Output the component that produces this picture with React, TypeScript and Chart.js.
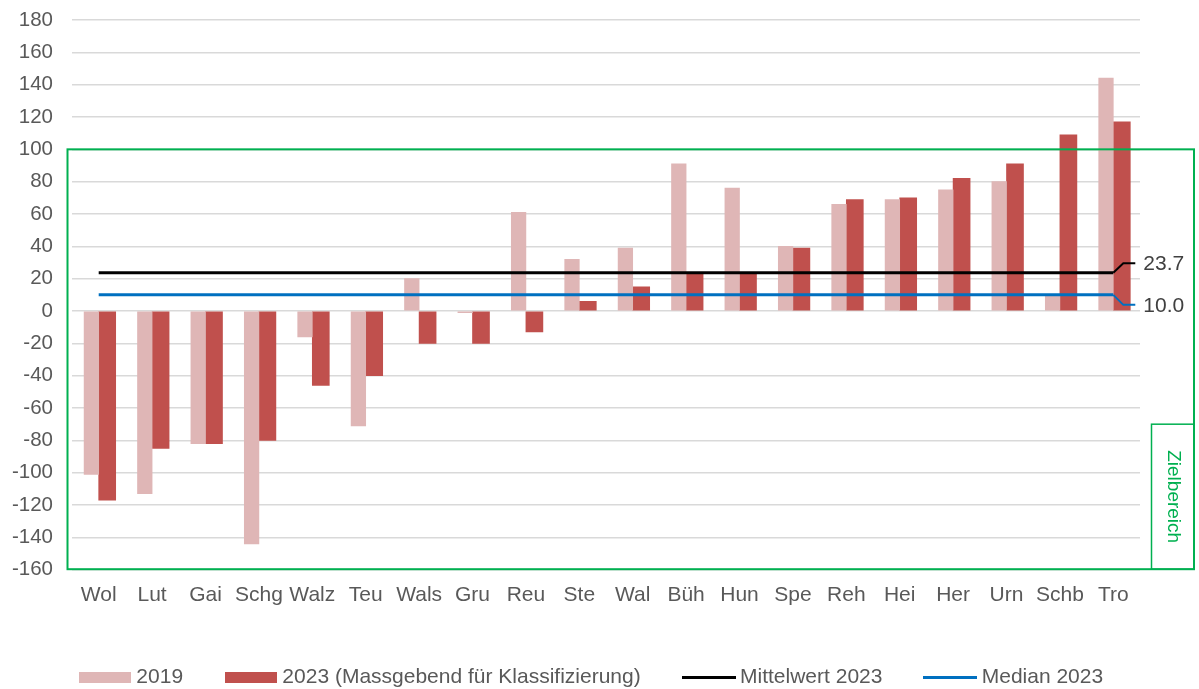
import React, { useEffect, useRef } from 'react';
import { Chart, registerables } from 'chart.js';

Chart.register(...registerables);

const CATEGORIES = ['Wol', 'Lut', 'Gai', 'Schg', 'Walz', 'Teu', 'Wals', 'Gru', 'Reu', 'Ste', 'Wal', 'Büh', 'Hun', 'Spe', 'Reh', 'Hei', 'Her', 'Urn', 'Schb', 'Tro'];
const VALUES_2019 = [-101, -113, -82, -144, -16, -71, 20, -1, 61, 32, 39, 91, 76, 40, 66, 69, 75, 80, 10, 144];
const VALUES_2023 = [-117, -85, -82, -80, -46, -40, -20, -20, -13, 6, 15, 23, 23, 39, 69, 70, 82, 91, 109, 117];
const MEAN_2023 = 23.7;
const MEDIAN_2023 = 10.0;
const Y_MIN = -160;
const Y_MAX = 180;
const Y_STEP = 20;
const TARGET_TOP = 100;
const TARGET_BOTTOM = -160;
const TARGET_LABEL_TOP = -70;
const SERIES_LABELS = ['2019', '2023 (Massgebend für Klassifizierung)', 'Mittelwert 2023', 'Median 2023'];
const TARGET_LABEL = 'Zielbereich';

const FONT = '"Liberation Sans", Arial, Helvetica, sans-serif';
const TEXT_COLOR = '#595959';
const GREEN = '#00B050';
const PINK = '#DFB6B6';
const RED = '#C0504D';
const BLUE = '#0070C0';

function makeSwatch(color: string, w: number, h: number) {
  const c = document.createElement('canvas');
  c.width = w;
  c.height = h;
  const g = c.getContext('2d');
  if (g) {
    g.fillStyle = color;
    g.fillRect(0, 0, w, h);
  }
  return c;
}

const overlayPlugin = {
  id: 'overlay',
  afterDatasetsDraw(chart: any) {
    const { ctx, chartArea, scales } = chart;
    const y = scales.y;
    const x = scales.x;
    ctx.save();
    const top = y.getPixelForValue(TARGET_TOP);
    const bottom = y.getPixelForValue(TARGET_BOTTOM) - 0.5;
    const left = chartArea.left - 4.5;
    const right = chartArea.right + 54;
    ctx.strokeStyle = GREEN;
    ctx.lineWidth = 2;
    ctx.strokeRect(left, top, right - left, bottom - top);
    const boxTop = y.getPixelForValue(TARGET_LABEL_TOP);
    const boxLeft = chartArea.right + 11.5;
    ctx.lineWidth = 1.5;
    ctx.strokeRect(boxLeft, boxTop, right - boxLeft, bottom - boxTop);
    ctx.save();
    ctx.translate((boxLeft + right) / 2, (boxTop + bottom) / 2);
    ctx.rotate(Math.PI / 2);
    ctx.fillStyle = GREEN;
    ctx.font = `19px ${FONT}`;
    ctx.textAlign = 'center';
    ctx.textBaseline = 'middle';
    ctx.fillText(TARGET_LABEL, 0, 0);
    ctx.restore();

    const lastX = x.getPixelForValue(CATEGORIES.length - 1);
    const drawLeader = (value: number, color: string, dy: number) => {
      const py = y.getPixelForValue(value);
      ctx.beginPath();
      ctx.strokeStyle = color;
      ctx.lineWidth = 2;
      ctx.moveTo(lastX, py);
      ctx.lineTo(lastX + 10, py + dy);
      ctx.lineTo(lastX + 22, py + dy);
      ctx.stroke();
      ctx.fillStyle = '#404040';
      ctx.font = `21px ${FONT}`;
      ctx.textAlign = 'left';
      ctx.textBaseline = 'middle';
      ctx.fillText(value.toFixed(1), lastX + 30, py + dy + 1);
    };
    drawLeader(MEAN_2023, '#000000', -9.5);
    drawLeader(MEDIAN_2023, BLUE, 10);
    ctx.restore();
  },
};

export default function App() {
  const canvasRef = useRef<HTMLCanvasElement | null>(null);

  useEffect(() => {
    document.body.style.margin = '0';
    const canvas = canvasRef.current;
    if (!canvas) return;
    const n = CATEGORIES.length;
    const swatches = [
      makeSwatch(PINK, 52, 11),
      makeSwatch(RED, 52, 11),
      makeSwatch('#000000', 54, 3),
      makeSwatch(BLUE, 54, 3),
    ];
    const chart = new Chart(canvas, {
      type: 'bar',
      data: {
        labels: CATEGORIES,
        datasets: [
          {
            type: 'bar',
            label: SERIES_LABELS[0],
            data: VALUES_2019,
            backgroundColor: PINK,
            borderWidth: 0,
            barThickness: 14.6,
            order: 2,
          } as any,
          {
            type: 'bar',
            label: SERIES_LABELS[1],
            data: VALUES_2023,
            backgroundColor: RED,
            borderWidth: 0,
            barThickness: 17,
            order: 2,
          } as any,
          {
            type: 'line',
            label: SERIES_LABELS[2],
            data: new Array(n).fill(MEAN_2023),
            borderColor: '#000000',
            backgroundColor: '#000000',
            borderWidth: 3,
            pointRadius: 0,
            order: 1,
          } as any,
          {
            type: 'line',
            label: SERIES_LABELS[3],
            data: new Array(n).fill(MEDIAN_2023),
            borderColor: BLUE,
            backgroundColor: BLUE,
            borderWidth: 3,
            pointRadius: 0,
            order: 1,
          } as any,
        ],
      },
      options: {
        animation: false,
        responsive: false,
        maintainAspectRatio: false,
        layout: { padding: { left: 0, right: 12, top: 20, bottom: -9 } },
        plugins: {
          tooltip: { enabled: false },
          legend: {
            position: 'bottom',
            labels: {
              usePointStyle: true,
              pointStyleWidth: 42,
              boxHeight: 11,
              padding: 46.8,
              color: TEXT_COLOR,
              font: { family: FONT, size: 21 },
              generateLabels: (c: any) =>
                c.data.datasets.map((ds: any, i: number) => ({
                  text: ds.label,
                  fillStyle: ds.type === 'line' ? ds.borderColor : ds.backgroundColor,
                  strokeStyle: ds.type === 'line' ? ds.borderColor : ds.backgroundColor,
                  lineWidth: 0,
                  pointStyle: swatches[i],
                  fontColor: TEXT_COLOR,
                  hidden: false,
                  datasetIndex: i,
                })),
            },
          },
        },
        scales: {
          x: {
            type: 'category',
            grid: { display: false, drawTicks: false },
            border: { display: false },
            ticks: {
              color: TEXT_COLOR,
              font: { family: FONT, size: 21 },
              padding: 13,
              maxRotation: 0,
              autoSkip: false,
            },
            afterFit: (s: any) => {
              s.height = 50.5;
            },
          },
          y: {
            min: Y_MIN,
            max: Y_MAX,
            position: 'left',
            ticks: {
              stepSize: Y_STEP,
              color: TEXT_COLOR,
              font: { family: FONT, size: 20.5 },
              padding: 0,
            },
            grid: {
              color: '#D9D9D9',
              lineWidth: 1.5,
              drawTicks: true,
              tickLength: 19,
              tickColor: 'rgba(0,0,0,0)',
            },
            border: { display: false },
            afterFit: (s: any) => {
              s.width = 72;
            },
          },
          y2: {
            position: 'right',
            display: true,
            grid: { display: false, drawTicks: false },
            border: { display: false },
            ticks: { display: false },
            afterFit: (s: any) => {
              s.width = 47;
            },
          },
        },
      } as any,
      plugins: [overlayPlugin],
    });
    return () => chart.destroy();
  }, []);

  return (
    <div style={{ width: 1199, height: 689, position: 'relative', background: '#ffffff' }}>
      <canvas ref={canvasRef} width={1199} height={689} style={{ display: 'block', width: 1199, height: 689 }} />
    </div>
  );
}
